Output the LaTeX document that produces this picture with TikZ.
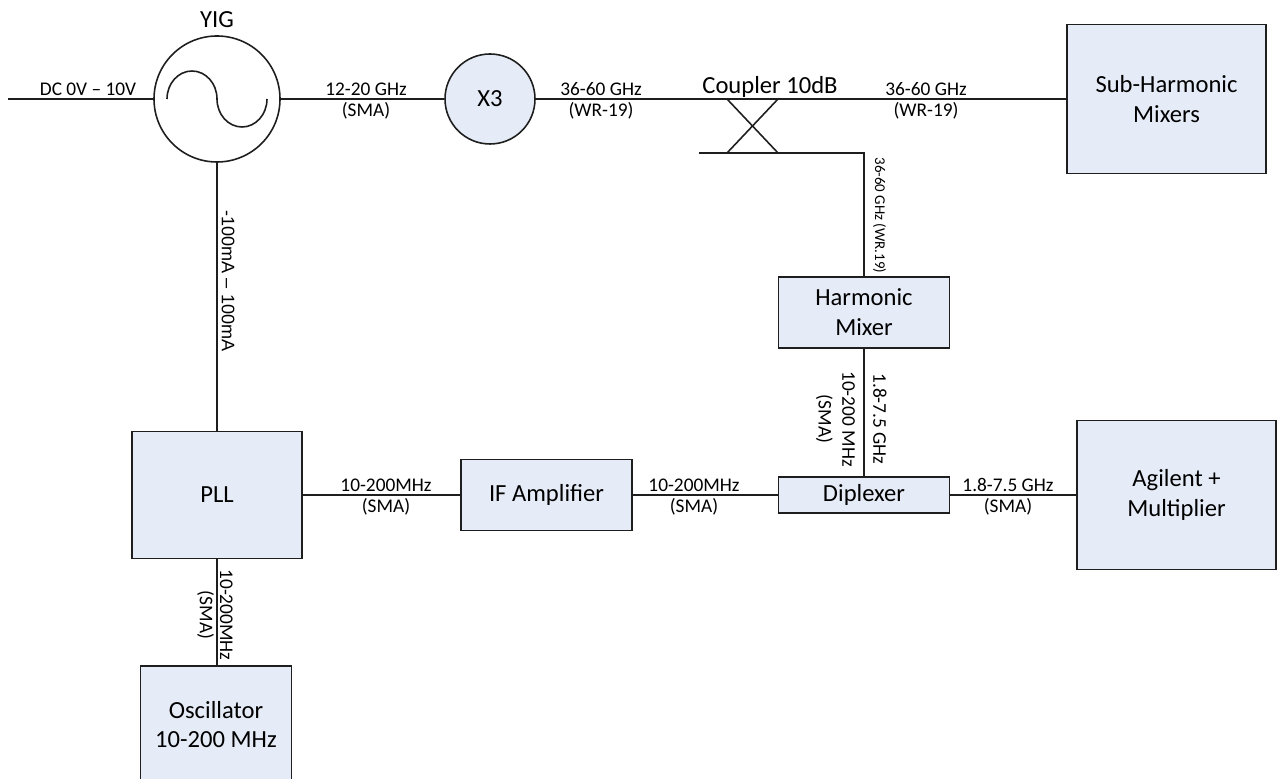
\documentclass[tikz,border=0pt]{standalone}
\usepackage{fontspec}
\setmainfont{Carlito}
\newfontfamily\arialfont{Liberation Sans}
\usepackage{xcolor}
\usepackage{tikz}
\definecolor{boxfill}{RGB}{230,236,247}
\definecolor{linecol}{RGB}{30,30,30}

\begin{document}
\begin{tikzpicture}[
    blk/.style={draw=linecol, fill=boxfill, line width=0.9pt, align=center, inner sep=0pt, font=\fontsize{14}{17}\selectfont},
    src/.style={draw=linecol, circle, line width=0.9pt, inner sep=0pt, font=\fontsize{14}{17}\selectfont},
    lbl/.style={inner sep=1.5pt, font=\fontsize{11}{13.5}\selectfont},
    link/.style={line width=0.9pt, draw=linecol},
]
\useasboundingbox (0,0) rectangle (25.64,15.56);

% sources and blocks
\node[src, minimum size=2.52cm] (yig) at (4.34, 13.58) {};
\node[src, fill=boxfill, minimum size=1.8cm] (x3) at (9.80, 13.58) {X3};
\node[blk, minimum width=3.98cm, minimum height=2.98cm] (shm) at (23.33, 13.58) {Sub-Harmonic\\Mixers};
\node[blk, minimum width=3.42cm, minimum height=1.42cm] (hmix) at (17.28, 9.31) {Harmonic\\Mixer};
\node[blk, minimum width=3.42cm, minimum height=0.72cm] (dplx) at (17.28, 5.66) {Diplexer};
\node[blk, minimum width=3.98cm, minimum height=2.98cm] (agil) at (23.53, 5.66) {Agilent +\\Multiplier};
\node[blk, minimum width=3.40cm, minimum height=2.54cm] (pll) at (4.34, 5.66) {PLL};
\node[blk, minimum width=3.42cm, minimum height=1.42cm] (ifamp) at (10.93, 5.66) {IF Amplifier};
\node[blk, minimum width=3.02cm, minimum height=2.34cm] (osc) at (4.32, 1.07) {Oscillator\\10-200 MHz};

\node[font=\fontsize{14}{17}\selectfont] (yiglbl) at (4.34, 15.16) {YIG};

% sine inside the YIG
\draw[link] ([xshift=-1cm]yig.center) arc[start angle=180, end angle=0, x radius=0.5cm, y radius=0.56cm]
    arc[start angle=180, end angle=360, x radius=0.5cm, y radius=0.56cm];

% coupler
\coordinate (dcin) at (0.16, 13.58);
\coordinate (cpltl) at (14.54, 13.58);
\coordinate (cpltr) at (15.56, 13.58);
\coordinate (cplbl) at (14.54, 12.50);
\coordinate (cplbr) at (15.56, 12.50);
\coordinate (cplend) at (13.98, 12.50);

\draw[link] (dcin) -- (yig);
\draw[link] (yig) -- (x3);
\draw[link] (x3) -- (shm);
\draw[link] (cpltl) -- (cplbr);
\draw[link] (cpltr) -- (cplbl);
\draw[link] (cplend) -- (hmix.north |- cplend) -- (hmix.north);
\draw[link] (hmix) -- (dplx);
\draw[link] (yig) -- (pll);
\draw[link] (pll) -- (pll |- osc.north);
\draw[link] (pll) -- (ifamp);
\draw[link] (ifamp) -- (dplx);
\draw[link] (dplx) -- (agil);

% line labels
\node[lbl, above] at (1.76, 13.58) {DC 0V -- 10V};
\node[lbl, above] at (7.32, 13.58) {12-20 GHz};
\node[lbl, below] at (7.32, 13.58) {(SMA)};
\node[lbl, above] at (12.02, 13.58) {36-60 GHz};
\node[lbl, below] at (12.02, 13.58) {(WR-19)};
\node[above, inner sep=0.5pt, font=\fontsize{14}{17}\selectfont] at (15.40, 13.58) {Coupler 10dB};
\node[lbl, above] at (18.52, 13.58) {36-60 GHz};
\node[lbl, below] at (18.52, 13.58) {(WR-19)};

\node[lbl, above] at (7.72, 5.66) {10-200MHz};
\node[lbl, below] at (7.72, 5.66) {(SMA)};
\node[lbl, above] at (13.88, 5.66) {10-200MHz};
\node[lbl, below] at (13.88, 5.66) {(SMA)};
\node[lbl, above] at (20.16, 5.66) {1.8-7.5 GHz};
\node[lbl, below] at (20.16, 5.66) {(SMA)};

% vertical labels
\node[lbl, rotate=-90, anchor=south, inner sep=2.5pt, font=\arialfont\fontsize{10.3}{12}\selectfont] at (4.34, 9.94) {-100mA – 100mA};
\node[lbl, rotate=-90, anchor=south] at (4.34, 3.26) {10-200MHz};
\node[lbl, rotate=-90, anchor=north] at (4.34, 3.26) {(SMA)};
\node[lbl, rotate=-90, anchor=south, inner sep=5pt, font=\fontsize{8.5}{10}\selectfont] at (17.28, 11.25) {36-60 GHz (WR.19)};
\node[lbl, rotate=-90, anchor=north, align=center, inner sep=5pt] at (17.28, 7.18) {10-200 MHz\\(SMA)};
\node[lbl, rotate=-90, anchor=south, inner sep=5pt] at (17.28, 7.18) {1.8-7.5 GHz};
\end{tikzpicture}
\end{document}
